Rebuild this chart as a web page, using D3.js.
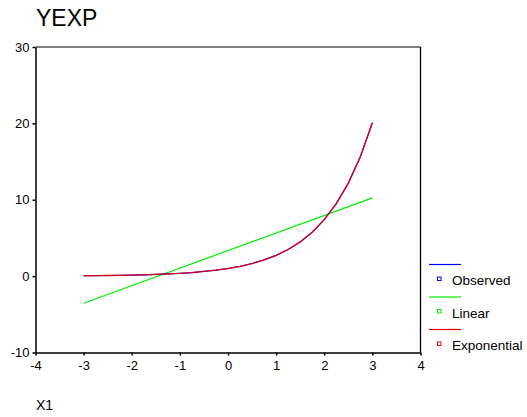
<!DOCTYPE html>
<html>
<head>
<meta charset="utf-8">
<script src="https://cdn.jsdelivr.net/npm/d3@7"></script>
<style>
  body { margin: 0; background: #fff; }
  svg { font-family: "Liberation Sans", Arial, sans-serif; }
</style>
</head>
<body>
<svg></svg>
<script>
// YEXP curve estimation chart
const SVG = d3.select('svg');
const SVG_WIDTH = 527;
const SVG_HEIGHT = 417;

// Data
const xValues = [-3, -2.75, -2.5, -2.25, -2, -1.75, -1.5, -1.25, -1, -0.75, -0.5, -0.25,
                 0, 0.25, 0.5, 0.75, 1, 1.25, 1.5, 1.75, 2, 2.25, 2.5, 2.75, 3];
const observed = [0.05, 0.06, 0.08, 0.11, 0.14, 0.17, 0.22, 0.29, 0.37, 0.47, 0.61, 0.78,
                  1.0, 1.28, 1.65, 2.12, 2.72, 3.49, 4.48, 5.75, 7.39, 9.49, 12.18, 15.64, 20.09];
const exponential = [0.05, 0.06, 0.08, 0.11, 0.14, 0.17, 0.22, 0.29, 0.37, 0.47, 0.61, 0.78,
                     1.0, 1.28, 1.65, 2.12, 2.72, 3.49, 4.48, 5.75, 7.39, 9.49, 12.18, 15.64, 20.09];
const linearX = [-3, 3];
const linearY = [-3.55, 10.25];
const xTicks = [-4, -3, -2, -1, 0, 1, 2, 3, 4];
const yTicks = [-10, 0, 10, 20, 30];
const legendNames = ['Observed', 'Linear', 'Exponential'];
const legendColors = ['#0000ff', '#00ee00', '#ee0000'];

const PLOT = {left: 35.5, right: 420.5, top: 47, bottom: 352.5};

SVG.attr('width', SVG_WIDTH).attr('height', SVG_HEIGHT);

//Scales
var xScale = d3.scaleLinear().domain([-4, 4]).range([PLOT.left, PLOT.right]);
var yScale = d3.scaleLinear().domain([-10, 30]).range([PLOT.bottom, PLOT.top]);

//Frame (top and right)
SVG.append('line').attr('x1', PLOT.left).attr('x2', PLOT.right)
                  .attr('y1', PLOT.top).attr('y2', PLOT.top)
                  .attr('stroke', '#555').attr('stroke-width', 1.3);
SVG.append('line').attr('x1', PLOT.right).attr('x2', PLOT.right)
                  .attr('y1', PLOT.top).attr('y2', PLOT.bottom)
                  .attr('stroke', '#000').attr('stroke-width', 1.3);

//Axes (plain hyphen for negatives, as in the original)
var xAxis = d3.axisBottom(xScale).tickValues(xTicks).tickFormat(d => String(d))
              .tickSize(3).tickSizeOuter(0).tickPadding(5);
var yAxis = d3.axisLeft(yScale).tickValues(yTicks).tickFormat(d => String(d))
              .tickSize(3).tickSizeOuter(0).tickPadding(3);

var gx = SVG.append('g').attr('transform', `translate(0, ${PLOT.bottom})`).call(xAxis);
var gy = SVG.append('g').attr('transform', `translate(${PLOT.left}, 0)`).call(yAxis);
[gx, gy].forEach(g => {
  g.select('.domain').attr('stroke', '#000').attr('stroke-width', 1.5);
  g.selectAll('.tick line').attr('stroke', '#000').attr('stroke-width', 1.5);
  g.selectAll('.tick text').style('font-size', '13px').attr('fill', '#000')
   .style('font-family', '"Liberation Sans", Arial, sans-serif');
});

//Lines
var line = d3.line().x(d => xScale(d[0])).y(d => yScale(d[1]));

SVG.append('path').datum(linearX.map((x, i) => [x, linearY[i]]))
   .attr('d', line).attr('fill', 'none').attr('stroke', legendColors[1]).attr('stroke-width', 1.2);
SVG.append('path').datum(xValues.map((x, i) => [x, observed[i]]))
   .attr('d', line).attr('fill', 'none').attr('stroke', legendColors[0]).attr('stroke-width', 1.2);
SVG.append('path').datum(xValues.map((x, i) => [x, exponential[i]]))
   .attr('d', line).attr('fill', 'none').attr('stroke', legendColors[2]).attr('stroke-width', 1.3)
   .attr('stroke-opacity', 0.9);

//Titles
SVG.append('text').attr('x', 36).attr('y', 26)
                  .style('font-size', '23px')
                  .text('YEXP');
SVG.append('text').attr('x', 36).attr('y', 410)
                  .style('font-size', '14px')
                  .text('X1');

//Legend
var legend = SVG.selectAll('.legend').data(legendNames).enter()
                .append('g').attr('class', 'legend')
                .attr('transform', (d, i) => `translate(0, ${264.5 + i * 32.5})`);
legend.append('line').attr('x1', 429).attr('x2', 461).attr('y1', 0).attr('y2', 0)
      .attr('stroke', (d, i) => legendColors[i]).attr('stroke-width', 1.2);
legend.append('rect').attr('x', 437.5).attr('y', 12.5).attr('width', 3.5).attr('height', 3.5)
      .attr('fill', '#fff').attr('stroke', (d, i) => legendColors[i]).attr('stroke-width', 1);
legend.append('text').attr('x', 452).attr('y', 20.5)
      .style('font-size', '13.5px')
      .text(d => d);
</script>
</body>
</html>
